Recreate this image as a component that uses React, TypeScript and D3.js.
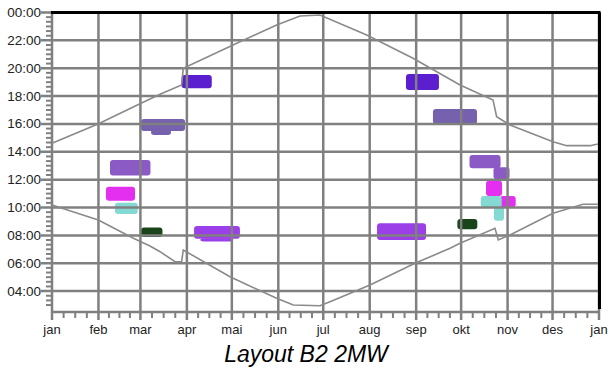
import React, { useRef, useEffect } from "react";
import * as d3 from "d3";

// month labels along the x axis (day of year where each month starts)
const months = ["jan", "feb", "mar", "apr", "mai", "jun", "jul", "aug", "sep", "okt", "nov", "des", "jan"];
const monthStartDays = [0, 31, 59, 90, 120, 151, 181, 212, 243, 273, 304, 334, 365];
const hourTicks = [4, 6, 8, 10, 12, 14, 16, 18, 20, 22, 24];

// sun curves: [day of year, clock hour]
const sunsetPoints: [number, number][] = [
    [0, 14.61], [30.7, 16.0], [58.7, 17.45], [72.1, 18.13], [86.5, 18.8], [87.6, 20.0],
    [120.8, 21.67], [149.9, 23.1], [165.5, 23.75], [178.8, 23.82], [210.0, 22.38],
    [240.9, 20.71], [272.3, 18.8], [294.3, 17.72], [296.7, 16.52], [305.6, 15.92],
    [334.3, 14.72], [343.5, 14.44], [359.0, 14.44], [364.3, 14.56],
];
const sunrisePoints: [number, number][] = [
    [0, 10.18], [30.9, 9.1], [54.3, 7.79], [65.4, 7.24], [72.1, 6.83], [82.1, 6.11],
    [86.5, 6.11], [87.6, 6.95], [118.8, 5.03], [149.9, 3.48], [161.0, 3.0], [178.8, 2.95],
    [185.5, 3.24], [212.2, 4.44], [242.2, 6.0], [265.6, 7.07], [272.3, 7.43],
    [295.6, 8.51], [297.8, 7.67], [305.6, 8.03], [334.3, 9.59], [354.3, 10.23], [364.3, 10.23],
];

// shadow flicker periods per receptor: [from day, to day, from hour, to hour]
const receptors = ["A", "B", "C", "D", "E", "F", "G"];
const periodsA: number[][] = [[86.5, 106.6, 18.56, 19.51], [236.2, 258.2, 18.44, 19.58]];
const periodsB: number[][] = [[59.4, 88.8, 15.49, 16.35], [66.1, 79.4, 15.21, 15.6], [254.2, 283.6, 15.99, 17.07]];
const periodsC: number[][] = [[38.7, 65.7, 12.3, 13.41], [278.6, 299.3, 12.82, 13.77], [294.6, 305.3, 12.03, 12.9]];
const periodsD: number[][] = [[36.0, 55.4, 10.49, 11.49], [289.6, 300.3, 10.83, 11.93], [298.9, 309.4, 10.02, 10.83]];
const periodsE: number[][] = [[42.0, 57.2, 9.53, 10.35], [286.1, 300.1, 10.02, 10.83], [294.9, 301.6, 9.05, 10.1]];
const periodsF: number[][] = [[59.4, 73.7, 7.88, 8.57], [270.5, 283.8, 8.44, 9.18]];
const periodsG: number[][] = [[94.8, 125.4, 7.75, 8.67], [99.0, 121.0, 7.56, 7.8], [216.9, 249.6, 7.67, 8.87]];
const receptorPeriods = [periodsA, periodsB, periodsC, periodsD, periodsE, periodsF, periodsG];
const receptorColors = ["#5b1fcf", "#7561ae", "#8b5ac4", "#e52ff0", "#85d9d3", "#1a441a", "#9b3fe8"];

const FONT = "'Liberation Sans', Arial, sans-serif";

function App() {
    const svgRef = useRef<SVGSVGElement>(null);

    useEffect(() => {
        const svg = d3.select(svgRef.current);
        svg.selectAll("*").remove();

        const left = 52;
        const right = 599;
        const top = 12.5;
        const bottom = 312;

        const x = d3.scaleLinear().domain([0, 365]).range([left, right]);
        const y = d3.scaleLinear().domain([2.5, 24]).range([bottom, top]);
        const color = d3.scaleOrdinal<string, string>().domain(receptors).range(receptorColors);

        // flicker periods
        const blobs = svg.append("g");
        receptors.forEach((r, i) => {
            blobs.selectAll(null)
                .data(receptorPeriods[i])
                .enter()
                .append("rect")
                .attr("x", (d) => x(d[0]))
                .attr("y", (d) => y(d[3]))
                .attr("width", (d) => x(d[1]) - x(d[0]))
                .attr("height", (d) => y(d[2]) - y(d[3]))
                .attr("rx", 3)
                .attr("fill", color(r));
        });

        const grid = svg.append("g").attr("stroke", "#808080");

        // horizontal hour grid + major ticks
        grid.selectAll(null)
            .data(hourTicks)
            .enter()
            .append("line")
            .attr("x1", left - 11)
            .attr("x2", right)
            .attr("y1", (d) => y(d))
            .attr("y2", (d) => y(d))
            .attr("stroke-width", 2.5);

        // minor hour ticks every 20 min
        const minorHours = d3.range(9, 72).filter((k) => k % 6 !== 0).map((k) => k / 3);
        grid.selectAll(null)
            .data(minorHours)
            .enter()
            .append("line")
            .attr("x1", left - 6)
            .attr("x2", left)
            .attr("y1", (d) => y(d))
            .attr("y2", (d) => y(d))
            .attr("stroke-width", 2);

        // vertical month grid + major ticks
        grid.selectAll(null)
            .data(monthStartDays)
            .enter()
            .append("line")
            .attr("x1", (d) => x(d))
            .attr("x2", (d) => x(d))
            .attr("y1", top)
            .attr("y2", bottom + 8)
            .attr("stroke-width", 2.5);

        // minor ticks at quarter months
        const quarterDays: number[] = [];
        for (let m = 0; m < 12; m++) {
            const len = monthStartDays[m + 1] - monthStartDays[m];
            for (let q = 1; q < 4; q++) quarterDays.push(monthStartDays[m] + (len * q) / 4);
        }
        grid.selectAll(null)
            .data(quarterDays)
            .enter()
            .append("line")
            .attr("x1", (d) => x(d))
            .attr("x2", (d) => x(d))
            .attr("y1", bottom)
            .attr("y2", bottom + 6)
            .attr("stroke-width", 2);

        grid.append("line")
            .attr("x1", left)
            .attr("x2", right)
            .attr("y1", bottom)
            .attr("y2", bottom)
            .attr("stroke-width", 2.5);

        // sun curves
        const line = d3.line<[number, number]>()
            .x((d) => x(d[0]))
            .y((d) => y(d[1]));

        [sunsetPoints, sunrisePoints].forEach((pts) => {
            svg.append("path")
                .datum(pts)
                .attr("d", line)
                .attr("fill", "none")
                .attr("stroke", "#8a8a8a")
                .attr("stroke-width", 1.6);
        });

        // frame
        svg.append("line")
            .attr("x1", left - 1)
            .attr("x2", right + 1.5)
            .attr("y1", top)
            .attr("y2", top)
            .attr("stroke", "#000")
            .attr("stroke-width", 3);
        svg.append("line")
            .attr("x1", right + 0.5)
            .attr("x2", right + 0.5)
            .attr("y1", top)
            .attr("y2", bottom - 3)
            .attr("stroke", "#000")
            .attr("stroke-width", 3);

        // labels
        svg.selectAll(null)
            .data(hourTicks)
            .enter()
            .append("text")
            .attr("x", left - 11)
            .attr("y", (d) => y(d) + 4.5)
            .attr("text-anchor", "end")
            .attr("font-family", FONT)
            .attr("font-size", 13.5)
            .attr("fill", "#222")
            .text((d) => `${String(d % 24).padStart(2, "0")}:00`);

        svg.selectAll(null)
            .data(monthStartDays)
            .enter()
            .append("text")
            .attr("x", (d) => x(d))
            .attr("y", 334)
            .attr("text-anchor", "middle")
            .attr("font-family", FONT)
            .attr("font-size", 13)
            .attr("fill", "#222")
            .text((d, i) => months[i]);

        svg.append("text")
            .attr("x", 306)
            .attr("y", 362)
            .attr("text-anchor", "middle")
            .attr("font-family", FONT)
            .attr("font-size", 23)
            .attr("font-style", "italic")
            .attr("fill", "#000")
            .text("Layout B2 2MW");
    }, []);

    return (
        <svg
            ref={svgRef}
            width={611}
            height={370}
            style={{ position: "absolute", left: 0, top: 0, background: "#fff" }}
        ></svg>
    );
}

export default App;
